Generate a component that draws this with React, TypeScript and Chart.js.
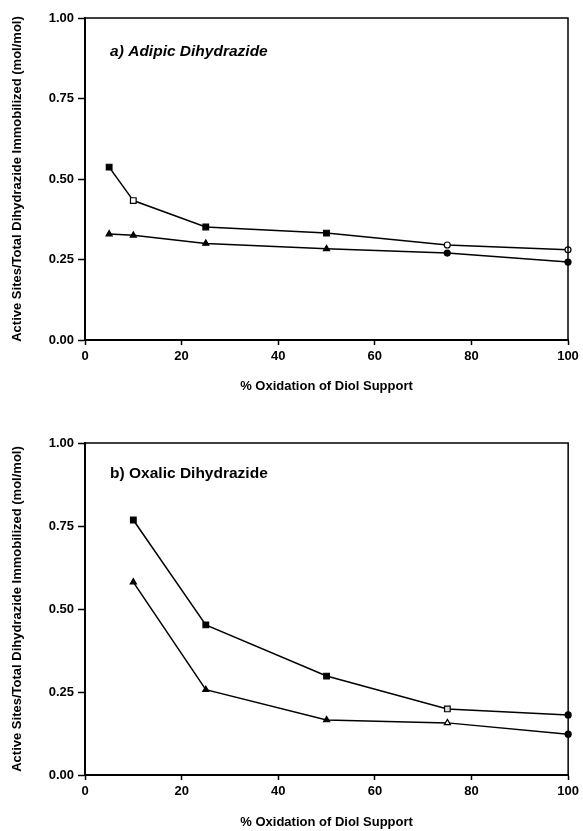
import React, { useEffect, useRef } from "react";
import { Chart, registerables } from "chart.js";

Chart.register(...registerables);

// ---- Data ----
const xTopA = [5, 10, 25, 50, 75, 100];
const squaresA = [0.537, 0.433, 0.351, 0.332, 0.295, 0.28];
const trianglesA = [0.329, 0.325, 0.3, 0.283, 0.27, 0.242];

const xB = [10, 25, 50, 75, 100];
const squaresB = [0.768, 0.452, 0.298, 0.199, 0.181];
const trianglesB = [0.581, 0.257, 0.166, 0.157, 0.123];

const labelA = "a) Adipic Dihydrazide";
const labelB = "b) Oxalic Dihydrazide";
const xTitle = "% Oxidation of Diol Support";
const yTitle = "Active Sites/Total Dihydrazide Immobilized (mol/mol)";

const FONT = "'Liberation Sans', Arial, Helvetica, sans-serif";

type PanelCfg = {
  xs: number[];
  sq: number[];
  tri: number[];
  label: string;
  italic: boolean;
  labelAt: [number, number];
  height: number;
  padTop: number;
  padRight: number;
  xScaleHeight: number;
  xTitlePad: number;
  sqStyles: string[];
  sqFill: string[];
  triStyles: string[];
  triFill: string[];
};

const radiusFor = (styles: string[], rectR: number, triR: number) =>
  styles.map((s) => (s === "circle" ? 3 : s === "rect" ? rectR : triR));

function makeChart(canvas: HTMLCanvasElement, p: PanelCfg) {
  const boxPlugin = {
    id: "boxAndLabel",
    afterDraw(chart: any) {
      const { ctx, chartArea, scales } = chart;
      ctx.save();
      ctx.strokeStyle = "#000";
      ctx.lineWidth = 1.5;
      ctx.strokeRect(chartArea.left, chartArea.top, chartArea.right - chartArea.left, chartArea.bottom - chartArea.top);
      ctx.fillStyle = "#000";
      ctx.font = `${p.italic ? "italic " : ""}bold 15.5px ${FONT}`;
      ctx.textAlign = "left";
      ctx.textBaseline = "middle";
      ctx.fillText(p.label, scales.x.getPixelForValue(p.labelAt[0]), scales.y.getPixelForValue(p.labelAt[1]));
      ctx.restore();
    },
  };

  return new Chart(canvas, {
    type: "line",
    data: {
      datasets: [
        {
          data: p.xs.map((x, i) => ({ x, y: p.sq[i] })),
          borderColor: "#000",
          borderWidth: 1.5,
          pointStyle: p.sqStyles as any,
          pointBackgroundColor: p.sqFill,
          pointBorderColor: "#000",
          pointBorderWidth: 1.2,
          pointRadius: radiusFor(p.sqStyles, 4, 3.5),
          tension: 0,
          clip: false as any,
        },
        {
          data: p.xs.map((x, i) => ({ x, y: p.tri[i] })),
          borderColor: "#000",
          borderWidth: 1.5,
          pointStyle: p.triStyles as any,
          pointBackgroundColor: p.triFill,
          pointBorderColor: "#000",
          pointBorderWidth: 1.2,
          pointRadius: radiusFor(p.triStyles, 4, 3.5),
          tension: 0,
          clip: false as any,
        },
      ],
    },
    options: {
      responsive: false,
      animation: false,
      events: [],
      layout: { padding: { top: p.padTop, right: p.padRight, left: 0, bottom: 0 } },
      plugins: { legend: { display: false }, tooltip: { enabled: false }, title: { display: false } },
      scales: {
        x: {
          type: "linear",
          min: 0,
          max: 100,
          afterFit: (s: any) => {
            s.height = p.xScaleHeight;
          },
          ticks: {
            stepSize: 20,
            color: "#000",
            padding: 4,
            font: { family: FONT, size: 13, weight: "bold" },
            maxRotation: 0,
          },
          grid: { drawOnChartArea: false, drawTicks: true, tickLength: 5, tickColor: "#000", tickWidth: 1.5 },
          border: { display: true, color: "#000", width: 2 },
          title: {
            display: true,
            text: xTitle,
            color: "#000",
            font: { family: FONT, size: 13, weight: "bold" },
            padding: { top: p.xTitlePad, bottom: p.xTitlePad },
          },
        },
        y: {
          type: "linear",
          min: 0,
          max: 1,
          afterFit: (s: any) => {
            s.width = 85;
          },
          ticks: {
            stepSize: 0.25,
            color: "#000",
            padding: 4,
            font: { family: FONT, size: 13, weight: "bold" },
            callback: (v: any) => Number(v).toFixed(2),
          },
          grid: { drawOnChartArea: false, drawTicks: true, tickLength: 7, tickColor: "#000", tickWidth: 1.5 },
          border: { display: true, color: "#000", width: 2 },
          title: {
            display: true,
            text: yTitle,
            color: "#000",
            font: { family: FONT, size: 13, weight: "bold" },
            padding: { top: 10, bottom: 10 },
          },
        },
      },
    },
    plugins: [boxPlugin],
  } as any);
}

const panelA: PanelCfg = {
  xs: xTopA,
  sq: squaresA,
  tri: trianglesA,
  label: labelA,
  italic: true,
  labelAt: [5.2, 0.895],
  height: 400,
  padTop: 18,
  padRight: 15,
  xScaleHeight: 60,
  xTitlePad: 6,
  sqStyles: ["rect", "rect", "rect", "rect", "circle", "circle"],
  sqFill: ["#000", "#fff", "#000", "#000", "#fff", "#fff"],
  triStyles: ["triangle", "triangle", "triangle", "triangle", "circle", "circle"],
  triFill: ["#000", "#000", "#000", "#000", "#000", "#000"],
};

const panelB: PanelCfg = {
  xs: xB,
  sq: squaresB,
  tri: trianglesB,
  label: labelB,
  italic: false,
  labelAt: [5.2, 0.907],
  height: 421,
  padTop: 33,
  padRight: 13,
  xScaleHeight: 56,
  xTitlePad: 1,
  sqStyles: ["rect", "rect", "rect", "rect", "circle"],
  sqFill: ["#000", "#000", "#000", "#ddd", "#000"],
  triStyles: ["triangle", "triangle", "triangle", "triangle", "circle"],
  triFill: ["#000", "#000", "#000", "#fff", "#000"],
};

function Panel({ cfg, top }: { cfg: PanelCfg; top: number }) {
  const ref = useRef<HTMLCanvasElement | null>(null);
  useEffect(() => {
    if (!ref.current) return;
    const c = makeChart(ref.current, cfg);
    return () => c.destroy();
  }, [cfg]);
  return (
    <canvas
      ref={ref}
      width={583}
      height={cfg.height}
      style={{ position: "absolute", left: 0, top, width: 583, height: cfg.height, display: "block" }}
    />
  );
}

export default function App() {
  return (
    <div style={{ position: "absolute", left: 0, top: 0, width: 583, height: 831, background: "#fff" }}>
      <Panel cfg={panelA} top={0} />
      <Panel cfg={panelB} top={410} />
    </div>
  );
}
